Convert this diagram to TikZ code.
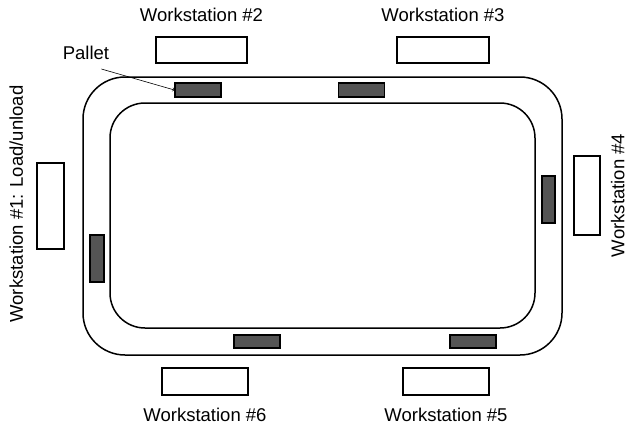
\documentclass[tikz,border=0pt]{standalone}
\usepackage{fontspec}
\setmainfont{Liberation Sans}
\usetikzlibrary{positioning}

\begin{document}
\begin{tikzpicture}[x=1pt,y=-1pt,font=\fontsize{18.5}{22}\selectfont,
  station/.style={draw,line width=1.4pt,fill=white,inner sep=0pt},
  pallet/.style={draw,line width=1.2pt,fill=black!67,inner sep=0pt},
  lbl/.style={inner sep=0pt}]
\useasboundingbox (0,0) rectangle (625,426);
% track
\draw[line width=1.5pt,rounded corners=42pt] (83,77) rectangle (562,355);
\draw[line width=1.5pt,rounded corners=35pt] (110,103) rectangle (535,328);
% workstations
\node[station,minimum width=91pt,minimum height=26pt] (ws2) at (201.5,50) {};
\node[station,minimum width=92pt,minimum height=26pt] (ws3) at (443,50) {};
\node[station,minimum width=26pt,minimum height=79pt] (ws4) at (587,195.5) {};
\node[station,minimum width=86pt,minimum height=27pt] (ws5) at (446,381.5) {};
\node[station,minimum width=86pt,minimum height=27pt] (ws6) at (205,381.5) {};
\node[station,minimum width=27pt,minimum height=86pt] (ws1) at (50.5,206) {};
\node[lbl,above=14pt of ws2] {Workstation \#2};
\node[lbl,above=14pt of ws3] {Workstation \#3};
\node[lbl,below=12pt of ws5] {Workstation \#5};
\node[lbl,below=12pt of ws6] {Workstation \#6};
\node[lbl,rotate=90,anchor=north] at ([xshift=10pt]ws4.east) {Workstation \#4};
\node[lbl,rotate=90,anchor=south] at ([xshift=-13pt,yshift=2pt]ws1.west) {Workstation \#1: Load/unload};
% pallets
\node[pallet,minimum width=46pt,minimum height=14pt] (p1) at (198,90) {};
\node[pallet,minimum width=46pt,minimum height=14pt] (p2) at (361.5,90) {};
\node[pallet,minimum width=13pt,minimum height=47pt] (p3) at (548.5,199.5) {};
\node[pallet,minimum width=46pt,minimum height=13pt] (p4) at (473,341.5) {};
\node[pallet,minimum width=46pt,minimum height=13pt] (p5) at (257,341.5) {};
\node[pallet,minimum width=14pt,minimum height=47pt] (p6) at (97,258.5) {};
\node[lbl] (pl) at (86,53) {Pallet};
\draw[->,line width=0.6pt] ([shift={(-8pt,-9pt)}]pl.south east) -- (p1.west);
\end{tikzpicture}
\end{document}
